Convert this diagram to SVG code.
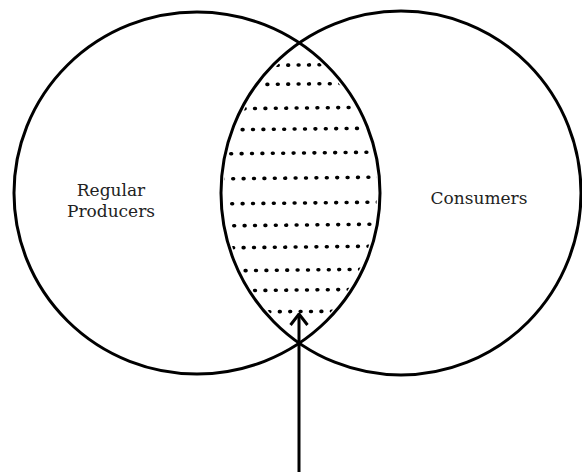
<svg xmlns="http://www.w3.org/2000/svg" width="582" height="472" viewBox="0 0 582 472">
  <style>
    .set { fill: none; stroke: #000; stroke-width: 3; }
    .label { font-family: "DejaVu Serif", "Liberation Serif", serif; font-size: 17px; fill: #222; text-anchor: middle; }
    .dots { stroke: #000; stroke-width: 3.6; stroke-linecap: round; stroke-dasharray: 0.8 9.6; fill: none; }
    .conn { stroke: #000; stroke-width: 3; fill: none; }
  </style>
  <defs>
    <clipPath id="clipL"><ellipse cx="197" cy="193" rx="180" ry="178"/></clipPath>
    <clipPath id="clipR"><ellipse cx="401" cy="193" rx="177" ry="179"/></clipPath>
    <marker id="arrow" viewBox="0 0 14 20" refX="12.5" refY="10" markerWidth="14" markerHeight="20" markerUnits="userSpaceOnUse" orient="auto">
      <polyline points="1.5,1.5 12.5,10 1.5,18.5" fill="none" stroke="#000" stroke-width="3" stroke-linejoin="miter"/>
    </marker>
  </defs>
  <rect width="582" height="472" fill="#fff"/>

  <g id="regular-producers">
    <ellipse class="set" cx="197" cy="193" rx="183" ry="181"/>
    <text class="label" x="111" y="196">Regular</text>
    <text class="label" x="111" y="217">Producers</text>
  </g>

  <g id="consumers">
    <ellipse class="set" cx="401" cy="193" rx="180" ry="182"/>
    <text class="label" x="479" y="204">Consumers</text>
  </g>

  <g id="overlap" clip-path="url(#clipL)">
    <g clip-path="url(#clipR)">
      <line class="dots" x1="215" y1="66" x2="390" y2="64"/>
      <line class="dots" x1="215" y1="85" x2="390" y2="83"/>
      <line class="dots" x1="213" y1="109" x2="390" y2="107"/>
      <line class="dots" x1="211" y1="130" x2="390" y2="128"/>
      <line class="dots" x1="210" y1="154" x2="390" y2="152"/>
      <line class="dots" x1="212" y1="179" x2="390" y2="177"/>
      <line class="dots" x1="211" y1="204" x2="390" y2="202"/>
      <line class="dots" x1="213" y1="226" x2="390" y2="224"/>
      <line class="dots" x1="212" y1="248" x2="390" y2="246"/>
      <line class="dots" x1="214" y1="271" x2="390" y2="269"/>
      <line class="dots" x1="213" y1="291" x2="390" y2="289"/>
      <line class="dots" x1="217" y1="312" x2="390" y2="311"/>
    </g>
  </g>

  <g id="connectors">
    <line class="conn" x1="299" y1="472" x2="299" y2="314" marker-end="url(#arrow)"/>
  </g>
</svg>
